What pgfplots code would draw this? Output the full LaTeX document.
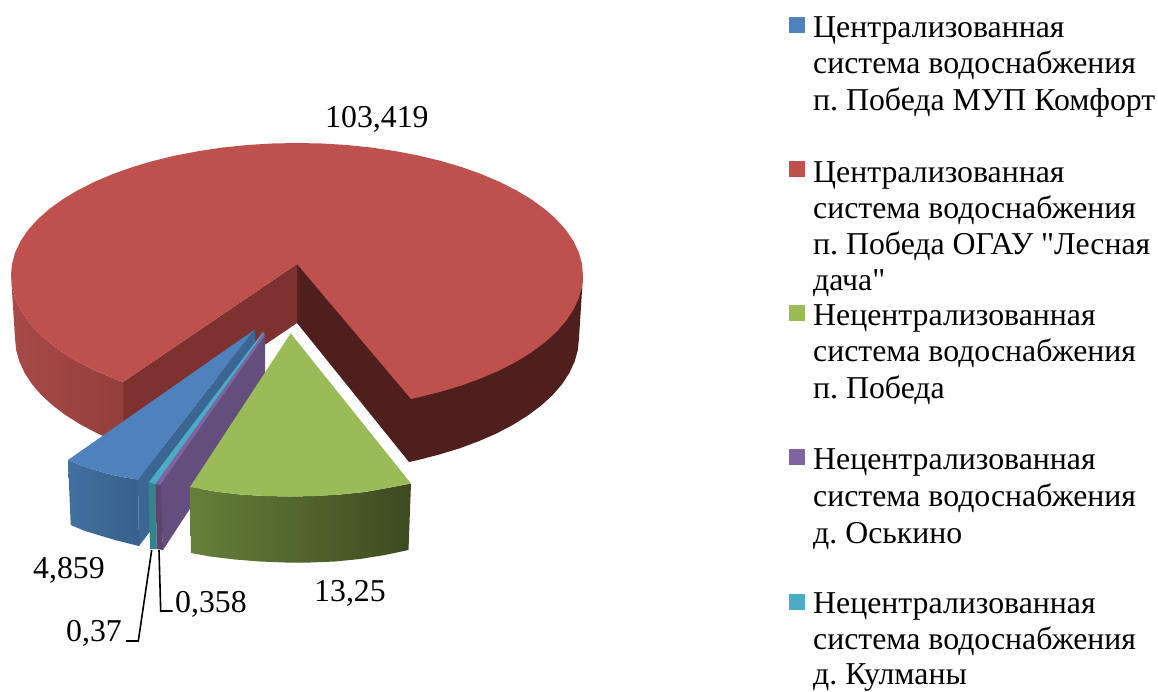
\documentclass[border=0pt]{standalone}
\usepackage{fontspec}
\setmainfont{Liberation Serif}[Ligatures=TeXOff]
\usepackage{pgfplots}
\pgfplotsset{compat=1.18}

\definecolor{redtop}{HTML}{BE504D}
\definecolor{reddark}{HTML}{4F1F1E}
\definecolor{redcut}{HTML}{7D3230}
\definecolor{redl}{HTML}{A84A47}
\definecolor{redr}{HTML}{933F3D}
\definecolor{bluetop}{HTML}{4F81BD}
\definecolor{bluecut}{HTML}{3B6593}
\definecolor{bluel}{HTML}{41709F}
\definecolor{bluer}{HTML}{39608C}
\definecolor{tealtop}{HTML}{4BACC6}
\definecolor{tealside}{HTML}{30858F}
\definecolor{purptop}{HTML}{8064A2}
\definecolor{purpcut}{HTML}{644E7D}
\definecolor{purpside}{HTML}{5B4672}
\definecolor{greentop}{HTML}{9BBB59}
\definecolor{greenl}{HTML}{66803A}
\definecolor{greenr}{HTML}{3D4A20}

\newcommand{\lab}[3]{\node[anchor=base west,inner sep=0pt] at (axis cs:#1,#2) {#3};}

\begin{document}
\frenchspacing
\begin{tikzpicture}
\useasboundingbox (0,0) rectangle (1158pt,691pt);
\begin{axis}[
  width=1158pt, height=691pt, scale only axis,
  xmin=0, xmax=1158, ymin=0, ymax=691, y dir=reverse,
  hide axis, clip=false,
  font=\fontsize{31.8}{36}\selectfont,
]
% red slice, 103,419: dark wall on the right
\addplot[fill=reddark, draw=none, mark=none] coordinates {
 (297,264) (583,275) (579,338) (577.9,349.8) (574.7,361.4) (569.4,372.9) (562,384.2)
 (552.6,395.1) (541.2,405.5) (528,415.4) (513,424.8) (496.4,433.5) (478.3,441.4)
 (458.8,448.6) (438,454.9) (416.2,460.4) (409,462) (297,323)};
% cut face
\addplot[fill=redcut, draw=none, mark=none] coordinates {
 (297,264) (123,382) (123,441) (297,323)};
% outer wall on the left
\addplot[left color=redl, right color=redr, draw=none, mark=none] coordinates {
 (11,275) (12.1,286.8) (15.3,298.4) (20.7,309.9) (28.2,321.2) (37.8,332.1) (49.3,342.5)
 (62.7,352.4) (77.9,361.8) (94.8,370.5) (113.2,378.4) (123,382) (123,441) (115.7,441.4)
 (97.6,433.5) (81,424.8) (66,415.4) (52.8,405.5) (41.4,395.1) (32,384.2) (24.6,372.9)
 (19.3,361.4) (16.1,349.8) (15,338)};
% top
\addplot[fill=redtop, draw=none, mark=none] coordinates {
 (297,264) (411,399) (417.9,397.4) (440,391.9) (461.1,385.6) (480.8,378.4) (499.2,370.5)
 (516.1,361.8) (531.3,352.4) (544.7,342.5) (556.2,332.1) (565.8,321.2) (573.3,309.9)
 (578.7,298.4) (581.9,286.8) (583,275) (581.9,263.5) (578.7,252.1) (573.3,240.8)
 (565.8,229.9) (556.2,219.2) (544.7,209) (531.3,199.3) (516.1,190.2) (499.2,181.7)
 (480.8,173.9) (461.1,166.9) (440,160.7) (417.9,155.4) (394.8,151) (371,147.5)
 (346.7,145) (321.9,143.5) (297,143) (272.1,143.5) (247.3,145) (223,147.5) (199.2,151)
 (176.1,155.4) (154,160.7) (132.9,166.9) (113.2,173.9) (94.8,181.7) (77.9,190.2)
 (62.7,199.3) (49.3,209) (37.8,219.2) (28.2,229.9) (20.7,240.8) (15.3,252.1) (12.1,263.5)
 (11,275) (12.1,286.8) (15.3,298.4) (20.7,309.9) (28.2,321.2) (37.8,332.1) (49.3,342.5)
 (62.7,352.4) (77.9,361.8) (94.8,370.5) (113.2,378.4) (123,382)};

% blue slice, 4,859
\addplot[fill=bluecut, draw=none, mark=none] coordinates {
 (255,329) (255,393) (139,546) (138,479)};
\addplot[left color=bluel, right color=bluer, draw=none, mark=none] coordinates {
 (68,460) (80,465) (93,469.5) (107,473.5) (122,477) (138,479.5) (139,546)
 (115,540) (100,535.5) (85,531) (70.7,525)};
\addplot[fill=bluetop, draw=none, mark=none] coordinates {
 (254,330) (68,460) (80,465) (93,469.5) (107,473.5) (122,477) (138,479.5)};

% teal slice, 0,37
\addplot[fill=tealside, draw=none, mark=none] coordinates {
 (148.5,482) (155.7,484) (156.7,549) (150,549)};
\addplot[fill=tealtop, draw=none, mark=none] coordinates {
 (263,332) (149,482) (155.5,484) (264,333)};

% purple slice, 0,358
\addplot[fill=purpcut, draw=none, mark=none] coordinates {
 (265,332) (265,394) (163,550) (160,485)};
\addplot[fill=purpside, draw=none, mark=none] coordinates {
 (155.7,484) (161,485) (163,550) (156.7,549)};
\addplot[fill=purptop, draw=none, mark=none] coordinates {
 (264,333) (155.5,484) (160,485) (264.5,336)};

% green slice, 13,25
\addplot[left color=greenl, right color=greenr, draw=none, mark=none] coordinates {
 (190,487) (215,491.5) (240,494.5) (265,496) (290,496.5) (315,496) (340,494.5) (365,492)
 (390,487.5) (411,483.5) (408.5,550) (385,555) (360,559) (335,561.5) (310,562.5)
 (285,562.5) (260,561.5) (235,559.5) (210,556.5) (191,553)};
\addplot[fill=greentop, draw=none, mark=none] coordinates {
 (290.7,333.3) (190,487) (215,491.5) (240,494.5) (265,496) (290,496.5) (315,496)
 (340,494.5) (365,492) (390,487.5) (411,483.5)};

% leader lines
\addplot[black, line width=1.6pt, mark=none] coordinates {(151.7,550) (138.3,641) (126,641)};
\addplot[black, line width=1.6pt, mark=none] coordinates {(159,550) (160.7,611) (172.7,611)};

% legend swatches
\addplot[fill=bluetop, draw=none, mark=none] coordinates {(789,17) (805,17) (805,33) (789,33)};
\addplot[fill=redtop, draw=none, mark=none] coordinates {(789,161) (805,161) (805,177) (789,177)};
\addplot[fill=greentop, draw=none, mark=none] coordinates {(789,305) (805,305) (805,321) (789,321)};
\addplot[fill=purptop, draw=none, mark=none] coordinates {(789,449) (805,449) (805,465) (789,465)};
\addplot[fill=tealtop, draw=none, mark=none] coordinates {(789,594) (805,594) (805,610) (789,610)};

% value labels
\lab{325}{127}{103,419}
\lab{314}{601}{13,25}
\lab{33}{578}{4,859}
\lab{175}{612}{0,358}
\lab{66}{641}{0,37}

% legend text
\lab{813}{37}{Централизованная}
\lab{813}{73}{система водоснабжения}
\lab{813}{110}{п. Победа МУП Комфорт}
\lab{813}{182}{Централизованная}
\lab{813}{218}{система водоснабжения}
\lab{813}{254}{п. Победа ОГАУ "Лесная}
\lab{813}{290}{дача"}
\lab{813}{325}{Нецентрализованная}
\lab{813}{361}{система водоснабжения}
\lab{813}{398}{п. Победа}
\lab{813}{469.5}{Нецентрализованная}
\lab{813}{506}{система водоснабжения}
\lab{813}{543}{д. Оськино}
\lab{813}{613}{Нецентрализованная}
\lab{813}{649.5}{система водоснабжения}
\lab{813}{684.5}{д. Кулманы}
\end{axis}
\end{tikzpicture}
\end{document}
